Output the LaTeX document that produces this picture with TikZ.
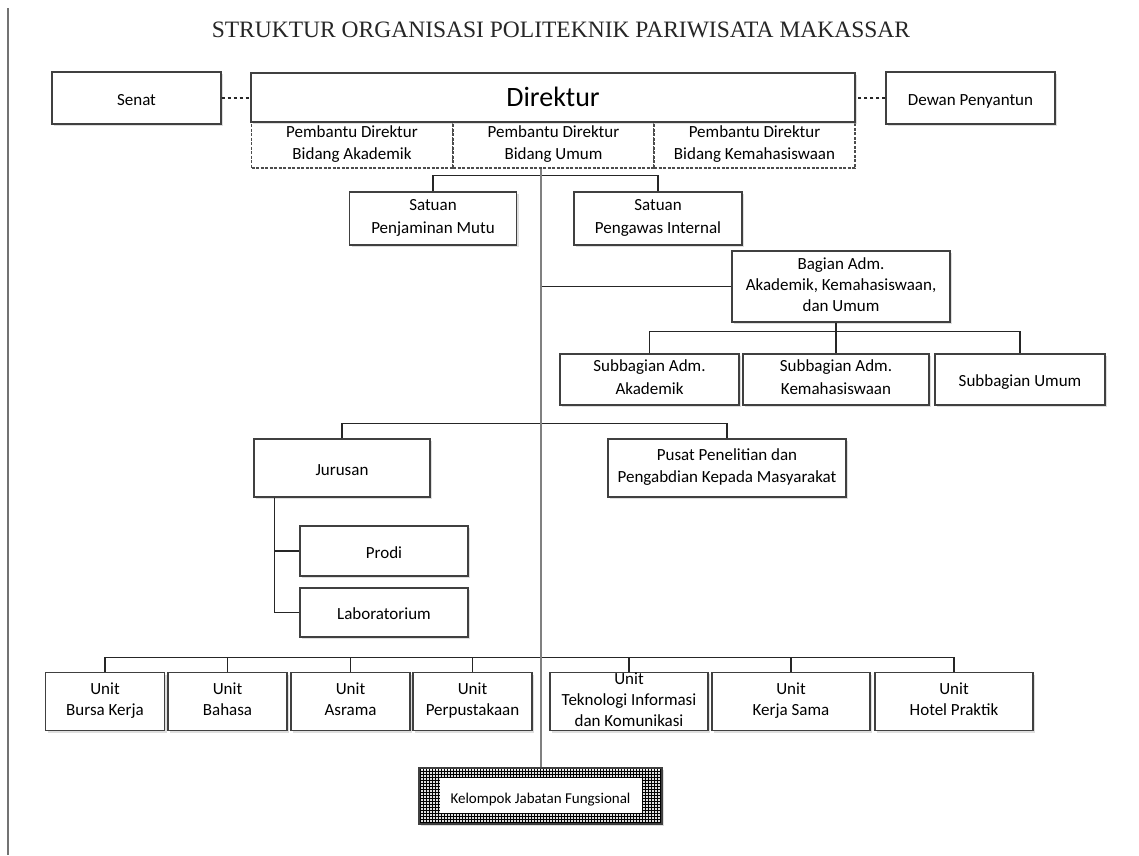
\documentclass[tikz,border=0pt]{standalone}
\usepackage{fontspec}
\setmainfont{Carlito}
\newfontfamily\titlefont{Liberation Serif}
\usetikzlibrary{shadows,patterns}

\begin{document}
\begin{tikzpicture}[x=1pt,y=-1pt,
        box/.style={draw=black!75, line width=1.3pt, fill=white, align=center, inner sep=0pt,
            font=\fontsize{17}{22.5}\selectfont,
            execute at begin node={\rule{0pt}{19pt}},
            execute at end node={\rule[-4.5pt]{0pt}{0pt}},
            drop shadow={shadow xshift=2pt, shadow yshift=-2pt, fill=black!25}},
        pdbox/.style={draw=black!70, line width=1.6pt, dash pattern=on 3pt off 1.5pt, fill=white,
            align=center, inner sep=0pt, minimum width=201, minimum height=46,
            font=\fontsize{17}{22.5}\selectfont,
            execute at begin node={\rule{0pt}{19pt}},
            execute at end node={\rule[-4.5pt]{0pt}{0pt}}},
        link/.style={draw=black!85, line width=1.2pt},
        spine/.style={draw=black!50, line width=2pt}]
    \useasboundingbox[fill=white] (0,0) rectangle (1139,855);
    \draw[black!55, line width=1.5pt] (8,8) -- (8,855);

    \node[font=\titlefont\fontsize{23.5}{28}\selectfont, text=black!85] (title) at (561,30)
        {STRUKTUR ORGANISASI POLITEKNIK PARIWISATA MAKASSAR};

    % pimpinan
    \foreach \n/\x/\t in {pda/352/{Pembantu Direktur\\Bidang Akademik},
                          pdu/553.5/{Pembantu Direktur\\Bidang Umum},
                          pdk/754.5/{Pembantu Direktur\\Bidang Kemahasiswaan}} {
        \node[pdbox] (\n) at (\x,145) {\t};
    }
    \node[box, minimum width=169, minimum height=52] (senat) at (136.5,98) {Senat};
    \node[box, minimum width=604, minimum height=49, font=\fontsize{28}{32}\selectfont,
        execute at begin node={\rule{0pt}{22pt}}, execute at end node={\rule[-2pt]{0pt}{0pt}}]
        (dir) at (553,97.5) {Direktur};
    \node[box, minimum width=169, minimum height=52] (dewan) at (970.5,98) {Dewan Penyantun};

    \node[box, minimum width=167, minimum height=53] (spm) at (433,218.5) {Satuan\\Penjaminan Mutu};
    \node[box, minimum width=168, minimum height=53] (spi) at (658,218.5) {Satuan\\Pengawas Internal};

    % bagian dan subbagian
    \node[box, minimum width=218, minimum height=71, font=\fontsize{17}{21}\selectfont] (bag) at (841,286.5) {Bagian Adm.\\Akademik, Kemahasiswaan,\\dan Umum};
    \node[box, minimum width=179, minimum height=51] (sb1) at (649.5,379.5) {Subbagian Adm.\\Akademik};
    \node[box, minimum width=186, minimum height=51] (sb2) at (836,379.5) {Subbagian Adm.\\Kemahasiswaan};
    \node[box, minimum width=170, minimum height=51] (sb3) at (1020,379.5) {Subbagian Umum};

    \node[box, minimum width=176, minimum height=58] (jur) at (342,468) {Jurusan};
    \node[box, minimum width=238, minimum height=58] (ppm) at (727,468) {Pusat Penelitian dan\\Pengabdian Kepada Masyarakat};
    \node[box, minimum width=168, minimum height=50] (prodi) at (384,551) {Prodi};
    \node[box, minimum width=168, minimum height=49] (lab) at (384,612.5) {Laboratorium};

    % unit
    \foreach \n/\x/\t in {ubk/105/{Unit\\Bursa Kerja}, ubh/227.5/{Unit\\Bahasa},
                          uas/350.5/{Unit\\Asrama}, upp/472.5/{Unit\\Perpustakaan}} {
        \node[box, minimum width=119, minimum height=58, font=\fontsize{17}{21}\selectfont] (\n) at (\x,701.5) {\t};
    }
    \foreach \n/\x/\t in {utik/629/{Unit\\Teknologi Informasi\\dan Komunikasi},
                          uks/791/{Unit\\Kerja Sama}, uhp/954/{Unit\\Hotel Praktik}} {
        \node[box, minimum width=158, minimum height=58, font=\fontsize{17}{21}\selectfont] (\n) at (\x,701.5) {\t};
    }

    \node[box, pattern=grid, pattern color=black, minimum width=243, minimum height=56,
        font=\fontsize{15}{18}\selectfont,
        execute at begin node={\rule{0pt}{15pt}},
        path picture={\fill[white] ([xshift=21pt,yshift=-10pt]path picture bounding box.north west)
            rectangle ([xshift=-20pt,yshift=11pt]path picture bounding box.south east);}]
        (kjf) at (540.5,796) {Kelompok Jabatan Fungsional};

    % garis
    \draw[link, dashed] (senat.east) -- (senat.east -| dir.west);
    \draw[link, dashed] (dewan.west) -- (dewan.west -| dir.east);
    \draw[link] (spm.north) -- ++(0,-16) -| (spi.north);
    \draw[link] (kjf.north |- bag.west) -- (bag.west);
    \draw[link] (bag.south -| sb2.north) -- (sb2.north);
    \draw[link] (sb1.north) -- ++(0,-22) -| (sb3.north);
    \draw[link] (jur.north) -- ++(0,-15) -| (ppm.north);
    \draw[link] ([xshift=21]jur.south west) |- (prodi.west);
    \draw[link] ([xshift=21]jur.south west) |- (lab.west);
    \draw[link] (ubk.north) -- ++(0,-14) -| (uhp.north);
    \foreach \n in {ubh,uas,upp,utik,uks} {
        \draw[link] (\n.north) -- ++(0,-14);
    }
    \draw[spine] (kjf.north |- pdu.south) -- (kjf.north);
\end{tikzpicture}
\end{document}
